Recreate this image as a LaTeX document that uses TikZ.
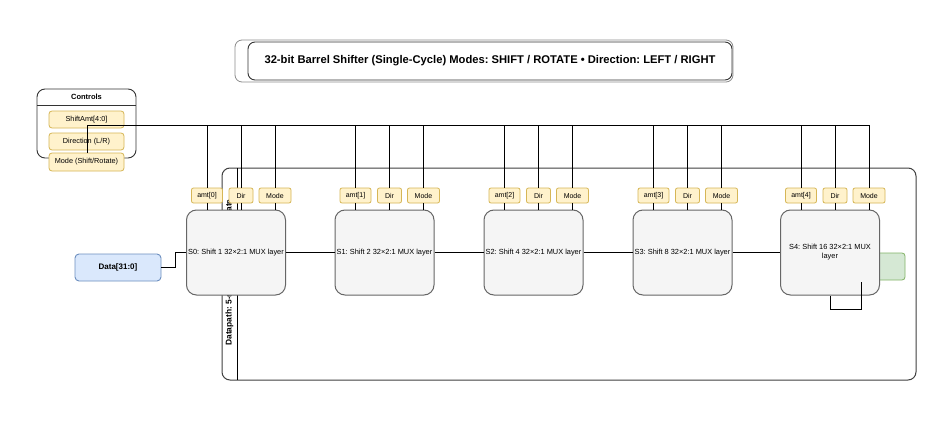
\documentclass[tikz,border=0pt]{standalone}
\usepackage{fontspec}
\setmainfont{Liberation Sans}
\usetikzlibrary{calc}
\frenchspacing
\definecolor{ylwfill}{HTML}{FFF2CC}
\definecolor{ylwline}{HTML}{D6B656}
\definecolor{bluefill}{HTML}{DAE8FC}
\definecolor{blueline}{HTML}{6C8EBF}
\definecolor{grnfill}{HTML}{D5E8D4}
\definecolor{grnline}{HTML}{82B366}
\definecolor{stagefill}{HTML}{F5F5F5}
\definecolor{stageline}{HTML}{666666}
\tikzset{
  wire/.style={draw=black, line width=1pt},
  stagebox/.style={draw=stageline, fill=stagefill, line width=1pt, rounded corners=10pt,
    minimum width=99pt, minimum height=85pt, inner sep=1pt, align=center,
    font=\fontsize{7.4}{9}\selectfont},
  lab/.style={draw=ylwline, fill=ylwfill, line width=0.8pt, rounded corners=2pt,
    minimum height=15pt, inner sep=1pt, font=\fontsize{7}{7.5}\selectfont},
  ctrlitem/.style={draw=ylwline, fill=ylwfill, line width=0.8pt, rounded corners=3pt,
    minimum width=75pt, inner sep=1pt, font=\fontsize{7.3}{8}\selectfont},
}
\begin{document}
\begin{tikzpicture}[x=1pt,y=-1pt]
\useasboundingbox[fill=white] (0,0) rectangle (943,428);

% title
\draw[draw=black!45, line width=0.8pt, rounded corners=7pt] (235,40) rectangle (733,82);
\node[draw=black!80, line width=0.9pt, rounded corners=7pt, fill=white,
  minimum width=484pt, minimum height=38pt, inner sep=0pt,
  font=\fontsize{11.2}{13}\selectfont\bfseries] (title) at (490,61) {32-bit Barrel Shifter (Single-Cycle) Modes: SHIFT / ROTATE • Direction: LEFT / RIGHT};

% datapath container
\node[draw=black!75, line width=1pt, rounded corners=8pt, minimum width=694pt, minimum height=212pt, inner sep=0pt] (dp) at (569,274) {};
\draw[wire] (237,168) -- (237,380);
\node[rotate=90, font=\fontsize{8.4}{9}\selectfont\bfseries, inner sep=0pt] (dptitle) at (229.5,272.5) {Datapath: 5-stage log shifter + rotate};

% controls
\node[draw=black!80, line width=0.9pt, rounded corners=8pt, fill=white, minimum width=99pt, minimum height=69pt, inner sep=0pt] (ctrl) at (86.5,123.5) {};
\draw[black!80, line width=0.9pt] (37,105) -- (136,105);
\node[font=\fontsize{7.5}{8}\selectfont\bfseries] (ctrlhead) at (86.5,97) {Controls};
\node[ctrlitem, minimum height=17pt] (amt) at (86.5,119.5) {ShiftAmt[4:0]};
\node[ctrlitem, minimum height=17pt] (dir) at (86.5,141.5) {Direction (L/R)};
\node[ctrlitem, minimum height=18pt] (mode) at (86.5,162) {Mode (Shift/Rotate)};
\coordinate (bus) at (87,125);

% output box (partly hidden by S4)
\node[draw=grnline, fill=grnfill, line width=0.8pt, rounded corners=3pt, minimum width=50pt, minimum height=27pt] (out) at (880,266.5) {};

% stages
\foreach \i/\cx/\sh in {0/236/1,1/384.5/2,2/533.5/4,3/682.5/8} {
  \node[stagebox] (S\i) at (\cx,252.5) {S\i: Shift \sh\ 32×2:1 MUX layer};
}
\node[stagebox] (S4) at (830,252.5) {S4: Shift 16 32×2:1 MUX\\layer};
\foreach \i/\cx in {0/236,1/384.5,2/533.5,3/682.5,4/830} {
  \node[lab, minimum width=31pt] (a\i) at (\cx-29,195.5) {amt[\i]};
  \node[lab, minimum width=24pt] (d\i) at (\cx+5,195.5) {Dir};
  \node[lab, minimum width=32pt] (m\i) at (\cx+39,195.5) {Mode};
}

% control bus
\draw[wire] (bus |- mode.north) -- (bus) -- (m4.north |- bus);
\foreach \i in {0,1,2,3,4} {
  \foreach \n in {a,d,m} {
    \draw[wire] (\n\i.north) -- (\n\i.north |- bus);
    \draw[wire] (\n\i.south) -- (\n\i.south |- S\i.north);
  }
}

% data path
\node[draw=blueline, fill=bluefill, line width=0.9pt, rounded corners=4pt, minimum width=86pt, minimum height=27pt,
  font=\fontsize{8}{9}\selectfont\bfseries] (data) at (118,267.5) {Data[31:0]};
\draw[wire] (data.east) -- ++(14,0) |- (S0.west);
\draw[wire] (S0.east) -- (S1.west);
\draw[wire] (S1.east) -- (S2.west);
\draw[wire] (S2.east) -- (S3.west);
\draw[wire] (S3.east) -- (S4.west);
\draw[wire] ($(S4.center)+(31,29.5)$) -- ++(0,27) -| (S4.south);
\end{tikzpicture}
\end{document}
